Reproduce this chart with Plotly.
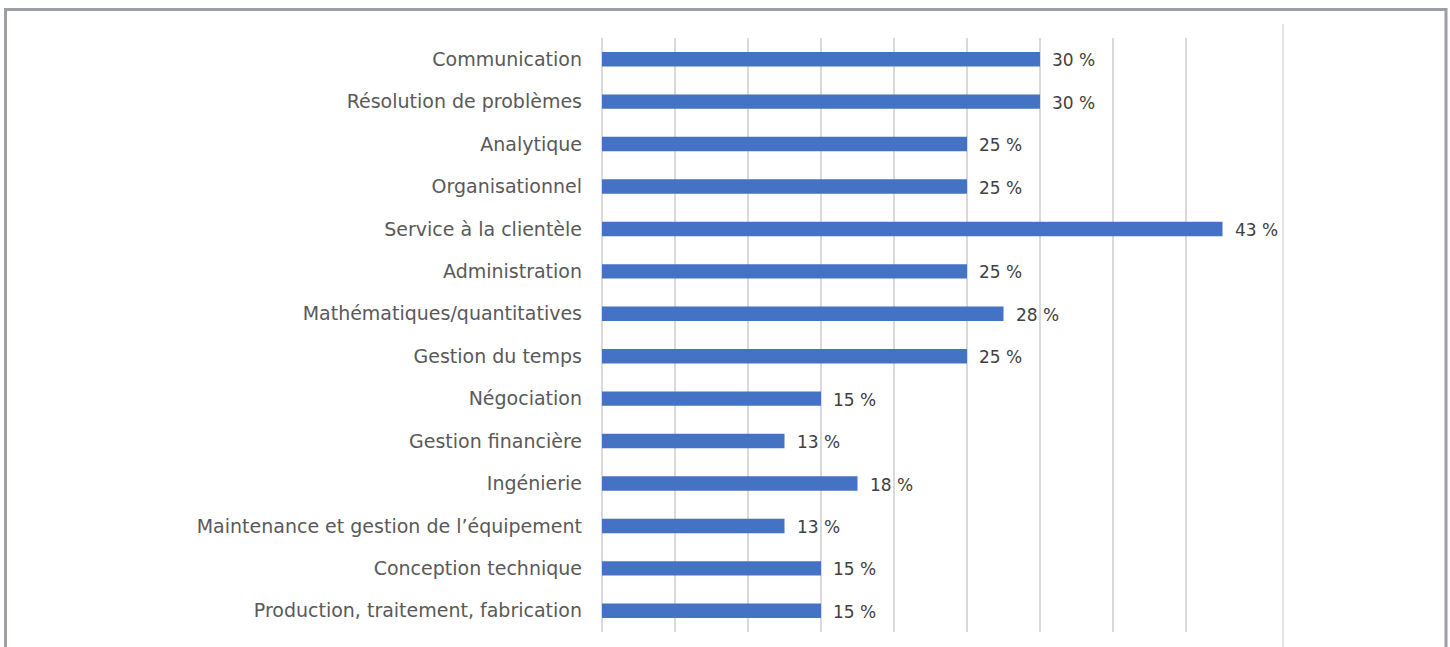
import plotly.graph_objects as go

categories = [
    "Communication",
    "Résolution de problèmes",
    "Analytique",
    "Organisationnel",
    "Service à la clientèle",
    "Administration",
    "Mathématiques/quantitatives",
    "Gestion du temps",
    "Négociation",
    "Gestion financière",
    "Ingénierie",
    "Maintenance et gestion de l’équipement",
    "Conception technique",
    "Production, traitement, fabrication",
]
values = [30, 30, 25, 25, 42.5, 25, 27.5, 25, 15, 12.5, 17.5, 12.5, 15, 15]
value_labels = ["30 %", "30 %", "25 %", "25 %", "43 %", "25 %", "28 %", "25 %",
                "15 %", "13 %", "18 %", "13 %", "15 %", "15 %"]

FONT = "'DejaVu Sans', sans-serif"

fig = go.Figure(go.Bar(
    x=values,
    y=categories,
    orientation="h",
    marker=dict(color="#4472C4", line=dict(width=0)),
    width=0.34,
    hoverinfo="skip",
))

W, H = 1450, 647
L, R, T, B = 602, 1259, 38, 632

def px_x(p):
    return (p - L) / (R - L)

def px_y(p):
    return (B - p) / (B - T)

annotations = [
    dict(x=v, y=c, xref="x", yref="y", text=t, showarrow=False,
         xanchor="left", yanchor="middle", xshift=10, yshift=-1,
         font=dict(family=FONT, size=17, color="#404040"))
    for v, c, t in zip(values, categories, value_labels)
]

fig.update_layout(
    width=W, height=H,
    margin=dict(l=L, r=W - R, t=T, b=H - B),
    paper_bgcolor="white",
    plot_bgcolor="white",
    showlegend=False,
    font=dict(family=FONT, size=18, color="#595959"),
    xaxis=dict(
        range=[0, 45], dtick=5, showticklabels=False,
        showgrid=True, gridcolor="#D9D9D9", gridwidth=1.5,
        zeroline=True, zerolinecolor="#D9D9D9", zerolinewidth=1.5,
        showline=False, fixedrange=True,
    ),
    yaxis=dict(
        autorange="reversed", showgrid=False, zeroline=False,
        showline=False, ticks="", ticklabelstandoff=19,
        tickfont=dict(family=FONT, size=19, color="#595959"),
        fixedrange=True,
    ),
    annotations=annotations,
    shapes=[
        dict(type="rect", xref="paper", yref="paper",
             x0=px_x(5.5), x1=px_x(1446), y0=px_y(670), y1=px_y(9.5),
             line=dict(color="#9AA0A6", width=3), layer="above"),
        dict(type="line", xref="paper", yref="paper",
             x0=px_x(1283), x1=px_x(1283), y0=px_y(24), y1=px_y(670),
             line=dict(color="#D9D9D9", width=1.5)),
    ],
)

fig.write_html(
    "out.html",
    config=dict(displayModeBar=False),
    post_script="document.body.style.margin='0';document.body.style.overflow='hidden';",
)
